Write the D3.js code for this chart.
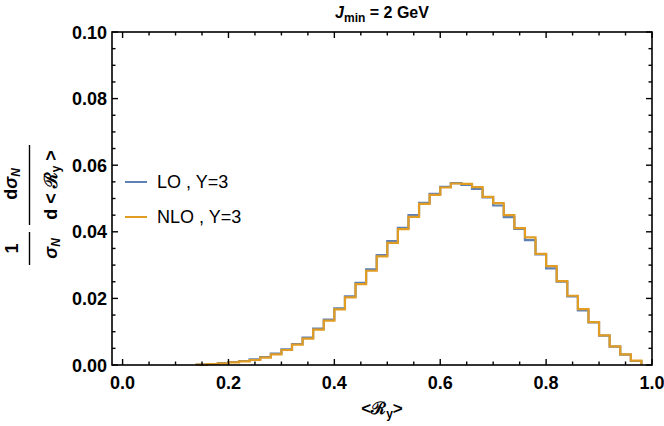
<!DOCTYPE html>
<html><head><meta charset="utf-8">
<script src="https://cdn.jsdelivr.net/npm/d3@7"></script>
<style>body{margin:0;background:#fff}</style>
</head><body><svg id="c" width="664" height="426"></svg>
<script>
const binStarts = [0.14,0.16,0.18,0.20,0.22,0.24,0.26,0.28,0.30,0.32,0.34,0.36,0.38,0.40,0.42,0.44,0.46,0.48,0.50,0.52,0.54,0.56,0.58,0.60,0.62,0.64,0.66,0.68,0.70,0.72,0.74,0.76,0.78,0.80,0.82,0.84,0.86,0.88,0.90,0.92,0.94,0.96];
const binWidth = 0.02;
const loValues = [0.0001,0.0003,0.0006,0.0009,0.0012,0.0017,0.0024,0.0034,0.0047,0.0063,0.0082,0.0109,0.0136,0.0170,0.0206,0.0247,0.0287,0.0330,0.0372,0.0412,0.0450,0.0487,0.0514,0.0535,0.0546,0.0541,0.0529,0.0503,0.0479,0.0444,0.0409,0.0375,0.0332,0.0290,0.0250,0.0206,0.0164,0.0128,0.0088,0.0055,0.0031,0.0012];
const nloValues = [0.0001,0.0003,0.0005,0.0008,0.0011,0.0015,0.0022,0.0032,0.0045,0.0061,0.0079,0.0106,0.0133,0.0167,0.0203,0.0243,0.0283,0.0326,0.0367,0.0408,0.0445,0.0484,0.0511,0.0533,0.0545,0.0544,0.0534,0.0505,0.0486,0.0450,0.0411,0.0383,0.0334,0.0297,0.0252,0.0208,0.0168,0.0129,0.0089,0.0056,0.0032,0.0013];
const xTickValues = [0,0.2,0.4,0.6,0.8,1.0];
const xTickLabels = ["0.0","0.2","0.4","0.6","0.8","1.0"];
const yTickValues = [0,0.02,0.04,0.06,0.08,0.10];
const yTickLabels = ["0.00","0.02","0.04","0.06","0.08","0.10"];
const seriesNames = ["LO , Y=3","NLO , Y=3"];
const seriesColors = ["#5E81B5","#E19C24"];

const svg = d3.select("#c");
const L = 112, R = 652, T = 32, B = 365;
const x = d3.scaleLinear().domain([-0.02, 1.0]).range([L, R]);
const y = d3.scaleLinear().domain([0, 0.10]).range([B, T]);
const font = "'Liberation Sans', Arial, sans-serif";

// histograms
function pts(vals){
  const p = [[binStarts[0],0]];
  binStarts.forEach((s,i)=>p.push([s,vals[i]]));
  const end = binStarts[binStarts.length-1]+binWidth;
  p.push([end, vals[vals.length-1]]);
  p.push([end, 0]);
  return p;
}
const line = d3.line().x(d=>x(d[0])).y(d=>y(d[1])).curve(d3.curveStepAfter);
[loValues, nloValues].forEach((vals,i)=>{
  svg.append("path").attr("d", line(pts(vals))).attr("fill","none")
    .attr("stroke", seriesColors[i]).attr("stroke-width",2.2).attr("stroke-linejoin","miter");
});

// frame
svg.append("rect").attr("x",L).attr("y",T).attr("width",R-L).attr("height",B-T)
  .attr("fill","none").attr("stroke","#000").attr("stroke-width",1.6);

// ticks
const g = svg.append("g").attr("stroke","#000").attr("stroke-width",1.4);
const xMinor = d3.range(0, 1.0001, 0.05).filter(v=>!xTickValues.some(t=>Math.abs(t-v)<1e-6));
const yMinor = d3.range(0, 0.10001, 0.005).filter(v=>!yTickValues.some(t=>Math.abs(t-v)<1e-6));
function xt(v,len){
  g.append("line").attr("x1",x(v)).attr("x2",x(v)).attr("y1",B).attr("y2",B-len);
  g.append("line").attr("x1",x(v)).attr("x2",x(v)).attr("y1",T).attr("y2",T+len);
}
function yt(v,len){
  g.append("line").attr("y1",y(v)).attr("y2",y(v)).attr("x1",L).attr("x2",L+len);
  g.append("line").attr("y1",y(v)).attr("y2",y(v)).attr("x1",R).attr("x2",R-len);
}
xTickValues.forEach(v=>xt(v,6)); xMinor.forEach(v=>xt(v,3.5));
yTickValues.forEach(v=>yt(v,6)); yMinor.forEach(v=>yt(v,3.5));

// tick labels
xTickValues.forEach((v,i)=>{
  svg.append("text").attr("x",x(v)).attr("y",B+24).attr("text-anchor","middle")
    .attr("font-family",font).attr("font-weight","bold").attr("font-size",18).text(xTickLabels[i]);
});
yTickValues.forEach((v,i)=>{
  svg.append("text").attr("x",L-5).attr("y",y(v)+6.5).attr("text-anchor","end")
    .attr("font-family",font).attr("font-weight","bold").attr("font-size",18).text(yTickLabels[i]);
});

// title
const title = svg.append("text").attr("x",(L+R)/2).attr("y",18).attr("text-anchor","middle")
  .attr("font-family",font).attr("font-weight","bold").attr("font-size",16);
title.append("tspan").attr("font-style","italic").text("J");
title.append("tspan").attr("font-size",12).attr("dy",4).text("min");
title.append("tspan").attr("dy",-4).text(" = 2 GeV");

// x label
const xl = svg.append("text").attr("x",(L+R)/2).attr("y",414).attr("text-anchor","middle")
  .attr("font-family",font).attr("font-weight","bold").attr("font-size",17);
xl.append("tspan").text("<\u211B");
xl.append("tspan").attr("font-size",12).attr("dy",4).text("y");
xl.append("tspan").attr("dy",-4).text(">");

// y label
const yg = svg.append("g").attr("transform","translate(29.5,200) rotate(-90)")
  .attr("font-family",font).attr("font-weight","bold").attr("font-size",18);
yg.append("line").attr("x1",-65).attr("x2",-32).attr("y1",0).attr("y2",0).attr("stroke","#000").attr("stroke-width",1.4);
yg.append("text").attr("x",-48.5).attr("y",-12).attr("text-anchor","middle").text("1");
const d1 = yg.append("text").attr("x",-48.5).attr("y",27).attr("text-anchor","middle");
d1.append("tspan").attr("font-style","italic").text("\u03C3");
d1.append("tspan").attr("font-size",12).attr("dy",3).attr("font-style","italic").text("N");
yg.append("line").attr("x1",-25).attr("x2",55).attr("y1",0).attr("y2",0).attr("stroke","#000").attr("stroke-width",1.4);
const n2 = yg.append("text").attr("x",16).attr("y",-13).attr("text-anchor","middle");
n2.append("tspan").text("d");
n2.append("tspan").attr("font-style","italic").text("\u03C3");
n2.append("tspan").attr("font-size",12).attr("dy",3).attr("font-style","italic").text("N");
const d2 = yg.append("text").attr("x",15).attr("y",27).attr("text-anchor","middle");
d2.append("tspan").text("d < \u211B");
d2.append("tspan").attr("font-size",12).attr("dy",3).text("y");
d2.append("tspan").attr("dy",-3).text(" >");

// legend
seriesNames.forEach((n,i)=>{
  const yy = 182 + i*35;
  svg.append("line").attr("x1",125).attr("x2",147).attr("y1",yy).attr("y2",yy)
    .attr("stroke",seriesColors[i]).attr("stroke-width",2);
  svg.append("text").attr("x",157).attr("y",yy+6).attr("font-family",font)
    .attr("font-size",18).text(n);
});
</script></body></html>
